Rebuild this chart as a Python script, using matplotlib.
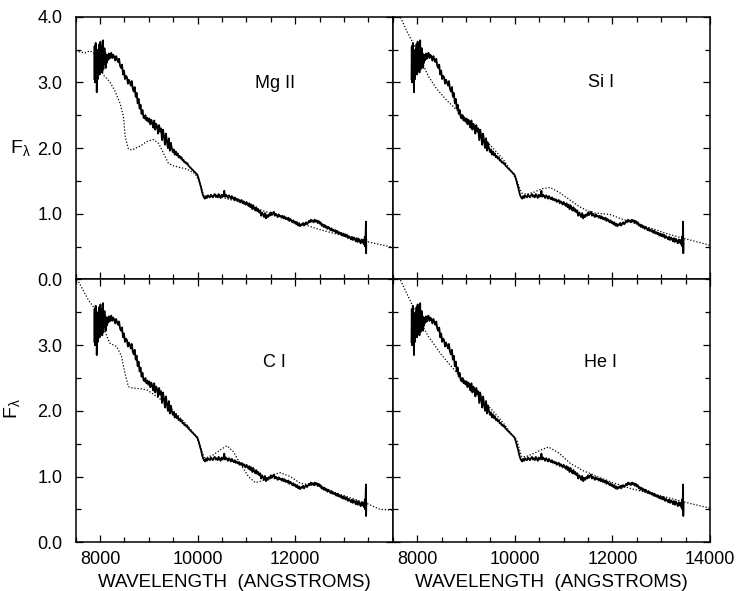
import matplotlib
matplotlib.use('Agg')
from matplotlib import pyplot as plt
from matplotlib.ticker import FixedLocator, MultipleLocator, FormatStrFormatter

plt.rcParams['font.family'] = ['Liberation Sans', 'DejaVu Sans']
plt.rcParams['mathtext.fontset'] = 'custom'
plt.rcParams['mathtext.rm'] = 'Liberation Sans'
plt.rcParams['mathtext.it'] = 'Liberation Sans'
plt.rcParams['mathtext.default'] = 'regular'

XLABEL = 'WAVELENGTH  (ANGSTROMS)'
YLABEL = r'F$_{\lambda}$'
PANELS = ['Mg II', 'Si I', 'C I', 'He I']

# observed spectrum (same in every panel), (wavelength, flux)
observed = [
    (7882, 3.05), (7888, 3.55), (7895, 3.00), (7902, 3.35), (7910, 3.60),
    (7918, 3.02), (7925, 3.30), (7932, 2.85), (7940, 3.20), (7948, 3.45),
    (7955, 3.05), (7962, 3.50), (7970, 3.15), (7978, 3.30), (7985, 3.58),
    (7992, 3.12), (8000, 3.40), (8008, 3.62), (8015, 3.18), (8022, 3.50),
    (8030, 3.25), (8038, 3.55), (8045, 3.15), (8052, 3.45), (8060, 3.64),
    (8068, 3.20), (8075, 3.40), (8082, 3.28), (8090, 3.52), (8100, 3.30),
    (8110, 3.44), (8120, 3.22), (8130, 3.40), (8140, 3.30), (8150, 3.42),
    (8165, 3.34), (8180, 3.44), (8195, 3.36), (8210, 3.41),
    (8230, 3.45), (8250, 3.37), (8270, 3.42), (8290, 3.39), (8310, 3.33),
    (8330, 3.40), (8350, 3.35), (8370, 3.31), (8390, 3.36), (8410, 3.25),
    (8430, 3.22), (8450, 3.27), (8470, 3.12), (8490, 3.18), (8510, 3.05),
    (8530, 3.10), (8550, 3.08), (8570, 2.98), (8590, 3.04), (8610, 3.00),
    (8630, 2.95), (8650, 3.02), (8670, 2.90), (8690, 2.86), (8710, 2.93),
    (8730, 2.78), (8750, 2.84), (8770, 2.68), (8790, 2.75), (8810, 2.60),
    (8830, 2.66), (8850, 2.52), (8870, 2.58), (8890, 2.47), (8910, 2.45),
    (8930, 2.50), (8950, 2.42), (8970, 2.46), (8990, 2.40), (9010, 2.45),
    (9030, 2.36), (9050, 2.43), (9070, 2.38), (9090, 2.31), (9110, 2.42),
    (9130, 2.28), (9150, 2.37), (9170, 2.33), (9190, 2.22), (9210, 2.35),
    (9230, 2.25), (9250, 2.30), (9270, 2.12), (9290, 2.28), (9310, 2.18),
    (9330, 2.05), (9350, 2.22), (9370, 2.10), (9390, 2.00), (9410, 2.15),
    (9430, 1.96), (9450, 2.08), (9470, 2.00), (9490, 1.94), (9510, 1.98),
    (9530, 1.90), (9550, 1.95), (9570, 1.89), (9590, 1.92), (9610, 1.86),
    (9630, 1.88), (9650, 1.84), (9670, 1.86), (9690, 1.81), (9710, 1.82),
    (9730, 1.78), (9750, 1.79), (9770, 1.76), (9790, 1.77), (9810, 1.73),
    (9830, 1.72), (9850, 1.70), (9870, 1.69), (9890, 1.67), (9910, 1.66),
    (9930, 1.64), (9950, 1.63), (9970, 1.61), (9990, 1.60), (10010, 1.56),
    (10030, 1.51), (10050, 1.45), (10070, 1.40), (10090, 1.33), (10110, 1.28),
    (10130, 1.25), (10150, 1.23),
    (10170, 1.27), (10190, 1.24), (10210, 1.28), (10230, 1.26), (10250, 1.25),
    (10270, 1.29), (10290, 1.27), (10310, 1.25), (10330, 1.28), (10350, 1.30),
    (10370, 1.26), (10390, 1.28), (10410, 1.25), (10430, 1.30), (10450, 1.27),
    (10470, 1.24), (10490, 1.29), (10510, 1.26), (10530, 1.28), (10545, 1.35),
    (10560, 1.26), (10580, 1.29), (10600, 1.27), (10620, 1.24), (10640, 1.28),
    (10660, 1.26), (10680, 1.23), (10700, 1.27), (10720, 1.24), (10740, 1.22),
    (10760, 1.25), (10780, 1.21), (10800, 1.23), (10820, 1.20), (10840, 1.22),
    (10860, 1.18), (10880, 1.20), (10900, 1.21), (10920, 1.16), (10940, 1.19),
    (10960, 1.17), (10980, 1.14), (11000, 1.18), (11020, 1.15), (11040, 1.12),
    (11060, 1.16), (11080, 1.10), (11100, 1.14), (11120, 1.07), (11140, 1.13),
    (11160, 1.08), (11180, 1.05), (11200, 1.10), (11220, 1.04), (11240, 1.07),
    (11260, 1.02), (11280, 1.05), (11300, 0.97), (11320, 1.02), (11340, 0.99),
    (11360, 0.95), (11380, 1.01), (11400, 0.93), (11420, 0.98), (11440, 0.95),
    (11460, 0.99), (11480, 0.97), (11500, 1.02), (11520, 0.98), (11540, 1.01),
    (11560, 1.03), (11580, 0.97), (11600, 1.00), (11620, 0.98), (11640, 0.95),
    (11660, 0.99), (11680, 0.96), (11700, 0.97), (11720, 0.94), (11740, 0.97),
    (11760, 0.93), (11780, 0.96), (11800, 0.92), (11820, 0.94), (11840, 0.91),
    (11860, 0.94), (11880, 0.89), (11900, 0.92), (11920, 0.90), (11940, 0.87),
    (11960, 0.90), (11980, 0.86), (12000, 0.88), (12020, 0.84), (12040, 0.87),
    (12060, 0.82), (12080, 0.85), (12100, 0.81), (12120, 0.84), (12140, 0.83),
    (12160, 0.86), (12180, 0.82), (12200, 0.85), (12220, 0.87), (12240, 0.84),
    (12260, 0.86), (12280, 0.89), (12300, 0.87), (12320, 0.91), (12340, 0.88),
    (12360, 0.90), (12380, 0.87), (12400, 0.91), (12420, 0.88), (12440, 0.90),
    (12460, 0.86), (12480, 0.89), (12500, 0.85), (12520, 0.87), (12540, 0.82),
    (12560, 0.84), (12580, 0.80), (12600, 0.83), (12620, 0.79), (12640, 0.81),
    (12660, 0.77), (12680, 0.80), (12700, 0.78), (12720, 0.75), (12740, 0.78),
    (12760, 0.74), (12780, 0.76), (12800, 0.73), (12820, 0.75), (12840, 0.71),
    (12860, 0.74), (12880, 0.70), (12900, 0.72), (12920, 0.69), (12940, 0.71),
    (12960, 0.67), (12980, 0.70), (13000, 0.66), (13020, 0.69), (13040, 0.65),
    (13060, 0.68), (13080, 0.63), (13100, 0.66), (13120, 0.64), (13140, 0.61),
    (13160, 0.65), (13180, 0.60), (13200, 0.64), (13220, 0.62), (13240, 0.58),
    (13260, 0.63), (13280, 0.57), (13300, 0.62), (13320, 0.59), (13340, 0.55),
    (13360, 0.61), (13380, 0.56), (13400, 0.60), (13415, 0.53), (13425, 0.65),
    (13435, 0.50), (13442, 0.72), (13448, 0.88), (13452, 0.40), (13456, 0.60),
]

# model spectra (dotted)
mg_wave = [7500, 7600, 7700, 7790, 7880, 7960, 8070, 8200, 8310, 8410,
           8480, 8515, 8580, 8650, 8820, 8960, 9090, 9200, 9300, 9400,
           9500, 9780, 9950, 10050, 10120, 10200, 10500, 10800, 11100, 11400,
           11700, 12000, 12500, 13000, 13500, 14000]
mg_flux = [3.48, 3.46, 3.45, 3.48, 3.44, 3.29, 3.11, 3.01, 2.86, 2.68,
           2.48, 2.17, 1.99, 1.97, 2.03, 2.10, 2.13, 2.07, 1.92, 1.77,
           1.73, 1.68, 1.61, 1.46, 1.28, 1.26, 1.25, 1.19, 1.11, 1.03,
           0.96, 0.88, 0.76, 0.66, 0.57, 0.49]

si_wave = [7500, 7650, 7800, 7920, 8050, 8230, 8400, 8600, 8880, 9100,
           9290, 9550, 9770, 9950, 10040, 10100, 10150, 10250, 10400, 10550,
           10720, 10900, 11130, 11300, 11470, 11650, 11800, 11950, 12150, 12360,
           12600, 12840, 13100, 13390, 13700, 14000]
si_flux = [4.25, 4.00, 3.76, 3.59, 3.38, 3.09, 2.90, 2.73, 2.53, 2.37,
           2.22, 2.00, 1.82, 1.62, 1.51, 1.38, 1.31, 1.30, 1.33, 1.38,
           1.40, 1.33, 1.21, 1.12, 1.05, 1.01, 1.00, 0.99, 0.93, 0.88,
           0.82, 0.77, 0.70, 0.64, 0.58, 0.52]

c_wave = [7500, 7535, 7650, 7760, 7930, 8050, 8200, 8340, 8440, 8510,
          8580, 8650, 8800, 8960, 9160, 9300, 9500, 9640, 9800, 9950,
          10030, 10100, 10150, 10320, 10450, 10600, 10730, 10870, 11040, 11180,
          11300, 11420, 11550, 11690, 11900, 12100, 12500, 12800, 13200, 13470,
          13740, 14000]
c_flux = [4.10, 4.00, 3.84, 3.69, 3.51, 3.30, 3.03, 2.98, 2.83, 2.57,
          2.37, 2.35, 2.34, 2.32, 2.22, 2.14, 2.00, 1.90, 1.77, 1.63,
          1.52, 1.35, 1.28, 1.33, 1.40, 1.47, 1.38, 1.20, 1.00, 0.91,
          0.93, 0.97, 1.03, 1.06, 1.00, 0.90, 0.85, 0.76, 0.66, 0.59,
          0.50, 0.49]

he_wave = [7500, 7650, 7854, 8000, 8230, 8500, 8880, 9290, 9550, 9770,
           9950, 10040, 10090, 10140, 10250, 10380, 10550, 10690, 10900, 11140,
           11400, 11690, 12000, 12370, 12800, 13190, 13600, 14000]
he_flux = [4.25, 4.00, 3.68, 3.45, 3.13, 2.85, 2.52, 2.21, 2.00, 1.81,
           1.63, 1.56, 1.42, 1.30, 1.31, 1.35, 1.41, 1.45, 1.36, 1.20,
           1.09, 1.00, 0.91, 0.82, 0.74, 0.67, 0.59, 0.52]

obs_wave = [p[0] for p in observed]
obs_flux = [p[1] for p in observed]
models = [(mg_wave, mg_flux), (si_wave, si_flux), (c_wave, c_flux), (he_wave, he_flux)]
label_pos = [(11580, 2.98), (11760, 3.0), (11580, 2.74), (11750, 2.74)]

fig, axes = plt.subplots(2, 2, figsize=(7.39, 5.91), dpi=100)
fig.subplots_adjust(left=0.1024, right=0.9608, top=0.9718, bottom=0.0824,
                    wspace=0, hspace=0)

for i, ax in enumerate(axes.flat):
    row, col = divmod(i, 2)
    ax.plot(obs_wave, obs_flux, color='black', lw=1.3)
    ax.plot(models[i][0], models[i][1], color='black', lw=0.9,
            linestyle=(0, (1, 1.5)))
    ax.set_xlim(7500, 14000)
    ax.set_ylim(0, 4)
    ax.text(label_pos[i][0], label_pos[i][1], PANELS[i], fontsize=13,
            ha='center', va='center')

    xt = [8000, 10000, 12000, 14000] if col == 1 else [8000, 10000, 12000]
    yt = [0, 1, 2, 3, 4] if row == 0 else [0, 1, 2, 3]
    ax.xaxis.set_major_locator(FixedLocator(xt))
    ax.yaxis.set_major_locator(FixedLocator(yt))
    ax.xaxis.set_minor_locator(MultipleLocator(500))
    ax.yaxis.set_minor_locator(MultipleLocator(0.5))
    ax.yaxis.set_major_formatter(FormatStrFormatter('%.1f'))
    ax.tick_params(which='both', direction='in', top=True, right=True,
                   width=0.9, labelsize=13)
    ax.tick_params(axis='x', pad=6.5)
    ax.tick_params(axis='y', pad=9.5)
    ax.tick_params(which='major', length=5)
    ax.tick_params(which='minor', length=3.3)
    for s in ax.spines.values():
        s.set_linewidth(1.1)

    if row == 0:
        ax.tick_params(labelbottom=False)
    else:
        ax.set_xlabel(XLABEL, fontsize=13.5, labelpad=4)
    if col == 1:
        ax.tick_params(labelleft=False)

axes[0, 0].set_ylabel(YLABEL, rotation=0, fontsize=14, ha='center', va='center')
axes[0, 0].yaxis.set_label_coords(-0.175, 0.5)
axes[1, 0].set_ylabel(YLABEL, fontsize=14, ha='center', va='center')
axes[1, 0].yaxis.set_label_coords(-0.2, 0.51)

plt.savefig('out.png', dpi=100)
